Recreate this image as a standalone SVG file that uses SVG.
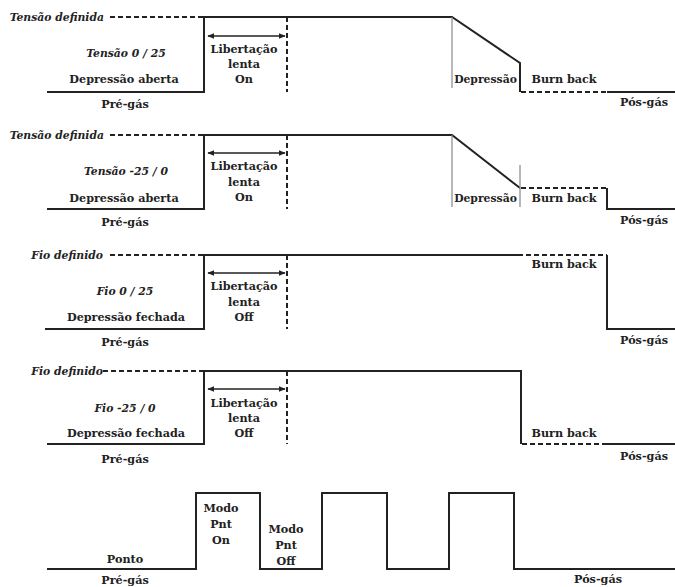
<svg xmlns="http://www.w3.org/2000/svg" width="675" height="587" viewBox="0 0 675 587">
<style>
text{font-family:"DejaVu Serif","Liberation Serif",serif;font-size:11.2px;font-weight:bold;fill:#222;}
.c{text-anchor:middle;}
.e{text-anchor:end;}
.i{font-style:italic;font-size:10.8px;}
.s{fill:none;stroke:#222;stroke-width:2;}
.d{fill:none;stroke:#222;stroke-width:2;stroke-dasharray:5,3;}
.g{fill:none;stroke:#888;stroke-width:1.2;}
.a{fill:none;stroke:#222;stroke-width:1.3;marker-start:url(#ah);marker-end:url(#ah);}
</style>
<defs>
<marker id="ah" viewBox="0 0 10 10" refX="9" refY="5" markerWidth="7" markerHeight="7" orient="auto-start-reverse" markerUnits="userSpaceOnUse">
<path d="M0,1 L10,5 L0,9 Z" fill="#222"/>
</marker>
</defs>
<rect width="675" height="587" fill="#fff"/>
<g id="connectors">
<!-- panel 1 -->
<path class="d" d="M110,17 H204"/>
<path class="s" d="M47,92 H204 V17 H452 L520,63 V92"/>
<path class="d" d="M521,92 H607"/>
<path class="s" d="M607,92 H675"/>
<path class="g" d="M452,17 V88"/>
<path class="d" d="M287,17 V92"/>
<path class="a" d="M208,36 H285"/>
<!-- panel 2 -->
<path class="d" d="M110,135 H204"/>
<path class="s" d="M47,209 H204 V135 H452 L520,188"/>
<path class="d" d="M521,188 H607"/>
<path class="s" d="M607,188 V209 H675"/>
<path class="g" d="M452,135 V207 M520,165 V207"/>
<path class="d" d="M287,135 V209"/>
<path class="a" d="M208,153 H285"/>
<!-- panel 3 -->
<path class="d" d="M110,255 H204"/>
<path class="s" d="M45,329 H204 V255 H518"/>
<path class="d" d="M518,255 H607"/>
<path class="s" d="M607,255 V329 H675"/>
<path class="d" d="M287,255 V329"/>
<path class="a" d="M208,273 H285"/>
<!-- panel 4 -->
<path class="d" d="M103,371 H204"/>
<path class="s" d="M47,444 H204 V371 H521 V444"/>
<path class="d" d="M522,444 H607"/>
<path class="s" d="M607,444 H675"/>
<path class="d" d="M287,371 V444"/>
<path class="a" d="M208,389 H285"/>
<!-- panel 5 -->
<path class="s" d="M47,569 H196 V493 H260 V569 H322 V493 H387 V569 H449 V493 H514 V569 H675"/>
</g>
<g id="panel1">
<text class="e i" x="104" y="21">Tensão definida</text>
<text class="c i" x="126" y="57">Tensão 0 / 25</text>
<text class="c" x="124" y="83">Depressão aberta</text>
<text class="c" x="125" y="108">Pré-gás</text>
<text class="c" x="244" y="53">Libertação</text>
<text class="c" x="244" y="68">lenta</text>
<text class="c" x="244" y="83">On</text>
<text class="c" x="485.5" y="83" style="font-size:10.8px">Depressão</text>
<text class="c" x="564" y="83">Burn back</text>
<text class="c" x="644" y="106">Pós-gás</text>
</g>
<g id="panel2">
<text class="e i" x="104" y="139">Tensão definida</text>
<text class="c i" x="126" y="175">Tensão -25 / 0</text>
<text class="c" x="124" y="202">Depressão aberta</text>
<text class="c" x="125" y="226">Pré-gás</text>
<text class="c" x="244" y="170">Libertação</text>
<text class="c" x="244" y="186">lenta</text>
<text class="c" x="244" y="201">On</text>
<text class="c" x="485.5" y="202" style="font-size:10.8px">Depressão</text>
<text class="c" x="564" y="202">Burn back</text>
<text class="c" x="644" y="224">Pós-gás</text>
</g>
<g id="panel3">
<text class="e i" x="103" y="259">Fio definido</text>
<text class="c i" x="125" y="295">Fio 0 / 25</text>
<text class="c" x="126" y="321">Depressão fechada</text>
<text class="c" x="125" y="346">Pré-gás</text>
<text class="c" x="244" y="290">Libertação</text>
<text class="c" x="244" y="306">lenta</text>
<text class="c" x="244" y="321">Off</text>
<text class="c" x="564" y="268">Burn back</text>
<text class="c" x="644" y="344">Pós-gás</text>
</g>
<g id="panel4">
<text class="e i" x="103" y="375">Fio definido</text>
<text class="c i" x="125" y="412">Fio -25 / 0</text>
<text class="c" x="126" y="437">Depressão fechada</text>
<text class="c" x="125" y="463">Pré-gás</text>
<text class="c" x="244" y="407">Libertação</text>
<text class="c" x="244" y="422">lenta</text>
<text class="c" x="244" y="437">Off</text>
<text class="c" x="564" y="437">Burn back</text>
<text class="c" x="644" y="460">Pós-gás</text>
</g>
<g id="panel5">
<text class="c" x="125" y="563">Ponto</text>
<text class="c" x="125" y="584">Pré-gás</text>
<text class="c" x="221" y="512">Modo</text>
<text class="c" x="221" y="528">Pnt</text>
<text class="c" x="221" y="544">On</text>
<text class="c" x="286" y="533">Modo</text>
<text class="c" x="286" y="549">Pnt</text>
<text class="c" x="286" y="565">Off</text>
<text class="c" x="598" y="583">Pós-gás</text>
</g>
</svg>
